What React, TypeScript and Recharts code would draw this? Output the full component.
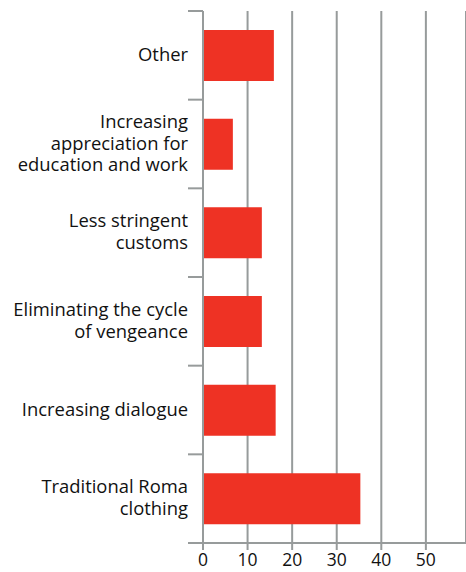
import { Bar, BarChart, CartesianGrid, XAxis, YAxis } from "recharts";

const categories = [
  "Other",
  "Increasing\nappreciation for\neducation and work",
  "Less stringent\ncustoms",
  "Eliminating the cycle\nof vengeance",
  "Increasing dialogue",
  "Traditional Roma\nclothing",
];
const values = [15.9, 6.7, 13.2, 13.2, 16.3, 35.3];
const xTicks = [0, 10, 20, 30, 40, 50];

const data = categories.map((category, i) => ({ category, value: values[i] }));

const W = 466;
const H = 572;
const TOP = 11;
const YAXIS_W = 203;
const XAXIS_H = 29;
const BAND = (H - TOP - XAXIS_H) / categories.length;
const GREY = "#979b9b";
const FONT = "'Open Sans', sans-serif";

const CategoryTick = (props: any) => {
  const { y, payload, index } = props;
  const lines = String(payload.value).split("\n");
  const lh = 21.5;
  const start = y - 2 - ((lines.length - 1) * lh) / 2;
  return (
    <g>
      <line x1={YAXIS_W - 15} x2={YAXIS_W} y1={y - BAND / 2} y2={y - BAND / 2} stroke={GREY} strokeWidth={2} />
      {index === categories.length - 1 && (
        <line x1={YAXIS_W - 15} x2={YAXIS_W} y1={y + BAND / 2} y2={y + BAND / 2} stroke={GREY} strokeWidth={2} />
      )}
      <text x={YAXIS_W - 15} y={start} textAnchor="end" fontSize={18.4} fill="#111" fontFamily={FONT}>
        {lines.map((l, i) => (
          <tspan key={i} x={YAXIS_W - 15} y={start + i * lh} dominantBaseline="central">
            {l}
          </tspan>
        ))}
      </text>
    </g>
  );
};

export default function App() {
  return (
    <div style={{ position: "absolute", left: 0, top: 0, background: "#fff" }}>
      <BarChart
        width={W}
        height={H}
        data={data}
        layout="vertical"
        margin={{ top: TOP, right: 0, bottom: 0, left: 0 }}
      >
        <CartesianGrid horizontal={false} stroke={GREY} strokeWidth={2} />
        <XAxis
          type="number"
          domain={[0, 59]}
          ticks={xTicks}
          height={XAXIS_H}
          axisLine={{ stroke: GREY, strokeWidth: 2 }}
          tickLine={{ stroke: GREY, strokeWidth: 2 }}
          tickSize={7}
          tickMargin={4}
          tick={{ fill: "#111", fontSize: 17.5, fontFamily: FONT }}
          interval={0}
        />
        <YAxis
          type="category"
          dataKey="category"
          width={YAXIS_W}
          axisLine={{ stroke: GREY, strokeWidth: 2 }}
          tickLine={false}
          tick={<CategoryTick />}
          interval={0}
        />
        <Bar dataKey="value" fill="#ee3224" barSize={51} isAnimationActive={false} />
      </BarChart>
    </div>
  );
}
